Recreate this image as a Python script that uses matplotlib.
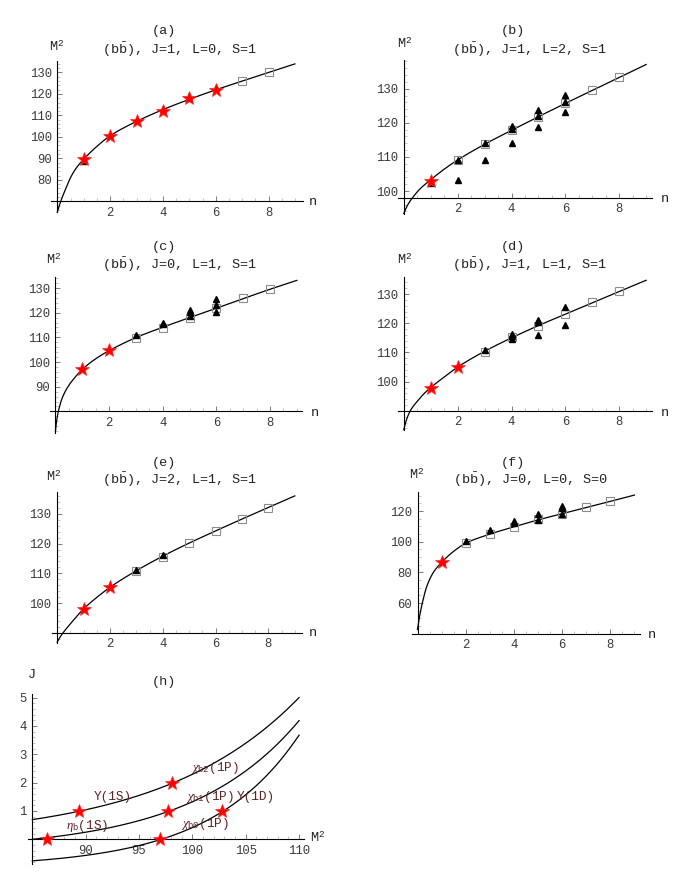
import numpy as np
import matplotlib
matplotlib.use("Agg")
import matplotlib.pyplot as plt
from matplotlib.ticker import AutoMinorLocator, FixedLocator

plt.rcParams['font.family'] = ['Liberation Mono', 'DejaVu Sans']
plt.rcParams['mathtext.fontset'] = 'custom'
plt.rcParams['mathtext.rm'] = 'Liberation Mono'
plt.rcParams['mathtext.it'] = 'Liberation Serif:italic'
plt.rcParams['mathtext.bf'] = 'Liberation Mono:bold'

# ---------------- data ----------------
# (a) J=1, L=0, S=1
a_curve_n = [0, 0.13, 0.3, 0.5, 0.7, 1, 1.5, 2, 3, 4, 5, 6, 7, 8, 9]
a_curve_m2 = [65.0, 70.0, 75.3, 81.0, 85.2, 89.6, 95.6, 100.5, 107.2, 112.7, 117.5, 121.9, 126.0, 130.0, 134.0]
a_star_n = [1, 2, 3, 4, 5, 6]
a_star_m2 = [89.6, 100.5, 107.2, 112.1, 118.3, 121.9]
a_tri_n = [1, 4, 5, 6]
a_tri_m2 = [88.8, 113.0, 118.2, 122.9]
a_sq_n = [7, 8]
a_sq_m2 = [126.0, 130.0]

# (b) J=1, L=2, S=1
b_curve_n = [0, 0.15, 0.35, 0.6, 1, 1.5, 2, 3, 4, 5, 6, 7, 8, 9]
b_curve_m2 = [93.4, 96.0, 98.3, 100.6, 103.3, 106.4, 109.1, 113.7, 117.8, 121.8, 125.7, 129.5, 133.3, 137.1]
b_star_n = [1]
b_star_m2 = [102.9]
b_tri_n = [1, 2, 2, 3, 3, 4, 4, 4, 5, 5, 5, 6, 6, 6]
b_tri_m2 = [102.4, 103.2, 109.1, 109.0, 114.1, 114.0, 118.1, 119.0, 118.9, 121.9, 123.8, 123.2, 126.1, 128.2]
b_sq_n = [2, 3, 4, 5, 6, 7, 8]
b_sq_m2 = [109.0, 113.7, 117.8, 121.8, 125.8, 129.6, 133.3]

# (c) J=0, L=1, S=1
c_curve_n = [0, 0.05, 0.11, 0.25, 0.48, 0.7, 1, 1.5, 2, 3, 4, 5, 6, 7, 8, 9]
c_curve_m2 = [71.8, 76.5, 80.0, 85.3, 90.2, 93.4, 97.0, 101.3, 104.6, 109.9, 114.1, 118.0, 121.8, 125.7, 129.5, 133.1]
c_star_n = [1, 2]
c_star_m2 = [97.2, 104.7]
c_tri_n = [3, 4, 4, 5, 5, 5, 6, 6, 6]
c_tri_m2 = [110.8, 115.9, 115.3, 121.1, 120.3, 118.5, 125.5, 123.1, 120.1]
c_sq_n = [3, 4, 5, 6, 7, 8]
c_sq_m2 = [109.7, 113.9, 118.0, 121.9, 125.8, 129.5]

# (d) J=1, L=1, S=1
d_curve_n = [0, 0.1, 0.25, 0.5, 0.75, 1, 1.5, 2, 3, 4, 5, 6, 7, 8, 9]
d_curve_m2 = [83.6, 87.0, 90.2, 93.3, 95.9, 98.0, 101.6, 105.0, 110.4, 115.0, 119.2, 123.1, 127.0, 130.9, 134.7]
d_star_n = [1, 2]
d_star_m2 = [97.7, 105.1]
d_tri_n = [3, 4, 4, 4, 5, 5, 5, 6, 6]
d_tri_m2 = [111.0, 116.2, 115.5, 114.7, 121.0, 120.4, 116.0, 125.5, 119.5]
d_sq_n = [3, 4, 5, 6, 7, 8]
d_sq_m2 = [110.2, 115.2, 119.1, 123.1, 127.1, 130.9]

# (e) J=2, L=1, S=1
e_curve_n = [0, 0.1, 0.26, 0.5, 0.75, 1, 1.5, 2, 3, 4, 5, 6, 7, 8, 9]
e_curve_m2 = [86.8, 88.4, 90.4, 93.0, 95.6, 98.0, 101.9, 105.3, 110.9, 115.8, 120.2, 124.3, 128.3, 132.2, 136.1]
e_star_n = [1, 2]
e_star_m2 = [98.1, 105.3]
e_tri_n = [3, 4]
e_tri_m2 = [111.0, 116.2]
e_sq_n = [3, 4, 5, 6, 7, 8]
e_sq_m2 = [110.7, 115.5, 120.1, 124.3, 128.2, 132.1]

# (f) J=0, L=0, S=0
f_curve_n = [0, 0.1, 0.2, 0.38, 0.66, 1, 1.5, 2, 3, 4, 5, 6, 7, 8, 9]
f_curve_m2 = [42.8, 52.5, 60.0, 70.6, 80.0, 86.5, 93.7, 99.0, 104.9, 109.7, 114.2, 118.2, 122.3, 126.3, 130.4]
f_star_n = [1]
f_star_m2 = [86.5]
f_tri_n = [1, 2, 3, 4, 4, 5, 5, 6, 6, 6]
f_tri_m2 = [87.6, 100.7, 107.4, 113.5, 112.0, 118.3, 113.9, 123.0, 121.7, 118.0]
f_sq_n = [2, 3, 4, 5, 6, 7, 8]
f_sq_m2 = [98.9, 104.8, 109.8, 114.6, 118.0, 122.6, 126.3]

# (h) Regge trajectories J vs M^2
h_curve_m2 = [85, 87.5, 90, 92.5, 95, 97.5, 100, 102.5, 105, 107.5, 110]
h_top_j = [0.695, 0.851, 1.041, 1.270, 1.548, 1.885, 2.294, 2.790, 3.391, 4.119, 5.002]
h_mid_j = [0.0, 0.110, 0.250, 0.429, 0.658, 0.951, 1.324, 1.801, 2.412, 3.191, 4.187]
h_bot_j = [-0.760, -0.679, -0.569, -0.421, -0.221, 0.049, 0.413, 0.905, 1.569, 2.465, 3.674]
h_star_m2 = [86.4, 89.4, 97.0, 97.7, 98.1, 102.8]
h_star_j = [0, 1, 0, 1, 2, 1]
h_labels = ["$\\eta_{\\mathrm{b}}$(1S)", "\u03a5(1S)", "$\\chi_{\\mathrm{b0}}$(1P)",
            "$\\chi_{\\mathrm{b1}}$(1P)", "$\\chi_{\\mathrm{b2}}$(1P)", "\u03a5(1D)"]

titles = {
    'a': ("(a)", "(b$\\bar{\\mathrm{b}}$), J=1, L=0, S=1"),
    'b': ("(b)", "(b$\\bar{\\mathrm{b}}$), J=1, L=2, S=1"),
    'c': ("(c)", "(b$\\bar{\\mathrm{b}}$), J=0, L=1, S=1"),
    'd': ("(d)", "(b$\\bar{\\mathrm{b}}$), J=1, L=1, S=1"),
    'e': ("(e)", "(b$\\bar{\\mathrm{b}}$), J=2, L=1, S=1"),
    'f': ("(f)", "(b$\\bar{\\mathrm{b}}$), J=0, L=0, S=0"),
}

series = {
    'a': (a_curve_n, a_curve_m2, a_star_n, a_star_m2, a_tri_n, a_tri_m2, a_sq_n, a_sq_m2),
    'b': (b_curve_n, b_curve_m2, b_star_n, b_star_m2, b_tri_n, b_tri_m2, b_sq_n, b_sq_m2),
    'c': (c_curve_n, c_curve_m2, c_star_n, c_star_m2, c_tri_n, c_tri_m2, c_sq_n, c_sq_m2),
    'd': (d_curve_n, d_curve_m2, d_star_n, d_star_m2, d_tri_n, d_tri_m2, d_sq_n, d_sq_m2),
    'e': (e_curve_n, e_curve_m2, e_star_n, e_star_m2, e_tri_n, e_tri_m2, e_sq_n, e_sq_m2),
    'f': (f_curve_n, f_curve_m2, f_star_n, f_star_m2, f_tri_n, f_tri_m2, f_sq_n, f_sq_m2),
}

# ---------------- layout (pixels) ----------------
W, H = 700, 886
fig = plt.figure(figsize=(W / 100, H / 100), dpi=100)

layout = {
    'a': dict(cal=(0, 57.3, 26.4, 70, 201.3, 2.147), xlim=(-0.25, 9.3), ylim=(65.0, 135.3),
              origin=(0, 70), yticks=[80, 90, 100, 110, 120, 130], yminor=5,
              t1=(163.7, 31), t2=(180, 50), m2=(56.7, 46.7), nl=(313.3, 202.3)),
    'b': dict(cal=(0, 403.8, 26.93, 100, 191.0, 3.41), xlim=(-0.23, 9.21), ylim=(93.3, 138.4),
              origin=(0, 98), yticks=[100, 110, 120, 130], yminor=5,
              t1=(513.3, 31), t2=(530, 50), m2=(404.3, 43.3), nl=(665, 199.3)),
    'c': dict(cal=(0, 55.4, 26.83, 90, 386.7, 2.467), xlim=(-0.2, 9.18), ylim=(71.2, 134.6),
              origin=(0, 80), yticks=[90, 100, 110, 120, 130], yminor=5,
              t1=(163.7, 246.7), t2=(180, 264.3), m2=(53.3, 259.3), nl=(315, 412.7)),
    'd': dict(cal=(0, 403.8, 26.93, 100, 381.7, 2.923), xlim=(-0.2, 9.2), ylim=(83.5, 135.9),
              origin=(0, 90), yticks=[100, 110, 120, 130], yminor=5,
              t1=(513.3, 246.7), t2=(530, 264.3), m2=(405, 259.3), nl=(665, 412.7)),
    'e': dict(cal=(0, 57.2, 26.4, 100, 603.0, 2.967), xlim=(-0.21, 9.26), ylim=(86.5, 137.5),
              origin=(0, 90), yticks=[100, 110, 120, 130], yminor=5,
              t1=(163.7, 462.7), t2=(180, 480), m2=(53.3, 476.7), nl=(313.3, 633.3)),
    'f': dict(cal=(0, 417.5, 24.1, 60, 603.0, 1.533), xlim=(-0.22, 9.23), ylim=(40.0, 132.2),
              origin=(0, 40), yticks=[60, 80, 100, 120], yminor=4,
              t1=(513.3, 462.7), t2=(530.3, 480), m2=(416.7, 474.3), nl=(651.7, 635)),
}

TICK_FS = 8.8
TITLE_FS = 9.7
LABEL_FS = 9.7
TICK_COLOR = '#3a3a3a'


def ftext(px, py, s, **kw):
    kw.setdefault('ha', 'center')
    kw.setdefault('va', 'center')
    return fig.text(px / W, 1 - py / H, s, **kw)


def make_axes(cal, xlim, ylim):
    xr, xpx, sx, yr, ypx, sy = cal
    left = xpx + (xlim[0] - xr) * sx
    right = xpx + (xlim[1] - xr) * sx
    top = ypx - (ylim[1] - yr) * sy
    bottom = ypx - (ylim[0] - yr) * sy
    ax = fig.add_axes([left / W, 1 - bottom / H, (right - left) / W, (bottom - top) / H])
    ax.set_xlim(*xlim)
    ax.set_ylim(*ylim)
    ax.patch.set_alpha(0)
    return ax


def style_axes(ax, origin, xticks, yticks, xminor, yminor):
    for s in ('top', 'right'):
        ax.spines[s].set_visible(False)
    ax.spines['left'].set_position(('data', origin[0]))
    ax.spines['bottom'].set_position(('data', origin[1]))
    for s in ('left', 'bottom'):
        ax.spines[s].set_linewidth(0.8)
        ax.spines[s].set_color('black')
    ax.xaxis.set_major_locator(FixedLocator(xticks))
    ax.yaxis.set_major_locator(FixedLocator(yticks))
    ax.xaxis.set_minor_locator(AutoMinorLocator(xminor))
    ax.yaxis.set_minor_locator(AutoMinorLocator(yminor))
    ax.tick_params(which='major', direction='in', length=3.5, width=0.6, color='#666666',
                   labelsize=TICK_FS, labelcolor=TICK_COLOR, pad=4.0)
    ax.tick_params(which='minor', direction='in', length=2.0, width=0.5, color='#aaaaaa')
    for lab in ax.get_xticklabels() + ax.get_yticklabels():
        lab.set_family('Liberation Mono')


def pchip(x, y, xs):
    x = np.asarray(x, float)
    y = np.asarray(y, float)
    h = np.diff(x)
    delta = np.diff(y) / h
    n = len(x)
    d = np.zeros(n)
    for k in range(1, n - 1):
        if delta[k - 1] * delta[k] > 0:
            w1 = 2 * h[k] + h[k - 1]
            w2 = h[k] + 2 * h[k - 1]
            d[k] = (w1 + w2) / (w1 / delta[k - 1] + w2 / delta[k])
    def end(h0, h1, d0, d1):
        v = ((2 * h0 + h1) * d0 - h0 * d1) / (h0 + h1)
        if np.sign(v) != np.sign(d0):
            v = 0.0
        elif np.sign(d0) != np.sign(d1) and abs(v) > abs(3 * d0):
            v = 3 * d0
        return v
    d[0] = end(h[0], h[1], delta[0], delta[1])
    d[-1] = end(h[-1], h[-2], delta[-1], delta[-2])
    idx = np.clip(np.searchsorted(x, xs) - 1, 0, n - 2)
    t = (xs - x[idx]) / h[idx]
    h00 = 2 * t**3 - 3 * t**2 + 1
    h10 = t**3 - 2 * t**2 + t
    h01 = -2 * t**3 + 3 * t**2
    h11 = t**3 - t**2
    return h00 * y[idx] + h10 * h[idx] * d[idx] + h01 * y[idx + 1] + h11 * h[idx] * d[idx + 1]


def draw_curve(ax, x, y):
    xs = np.linspace(x[0], x[-1], 600)
    ax.plot(xs, pchip(x, y, xs), color='black', lw=0.9, zorder=2, clip_on=False)


def draw_points(ax, sq, tri, star):
    if sq[0]:
        ax.plot(sq[0], sq[1], ls='none', marker='s', ms=5.2, mfc='none', mec='#8c8c8c',
                mew=0.8, zorder=3, clip_on=False)
    if tri[0]:
        ax.plot(tri[0], tri[1], ls='none', marker='^', ms=4.3, color='black', zorder=4,
                clip_on=False)
    if star[0]:
        ax.plot(star[0], star[1], ls='none', marker='*', ms=10.5, mfc='#ff0000', mec='#ff2a2a',
                mew=0.5, zorder=5, clip_on=False)


for key in ['a', 'b', 'c', 'd', 'e', 'f']:
    L = layout[key]
    cn, cm, sn, sm, tn, tm, qn, qm = series[key]
    ax = make_axes(L['cal'], L['xlim'], L['ylim'])
    style_axes(ax, L['origin'], [2, 4, 6, 8], L['yticks'], 4, L['yminor'])
    draw_curve(ax, cn, cm)
    draw_points(ax, (qn, qm), (tn, tm), (sn, sm))
    t1, t2 = titles[key]
    ftext(*L['t1'], t1, fontsize=TITLE_FS, color='#222222')
    ftext(*L['t2'], t2, fontsize=TITLE_FS, color='#222222')
    ftext(*L['m2'], "M$^{2}$", fontsize=LABEL_FS, color='#222222')
    ftext(*L['nl'], "n", fontsize=LABEL_FS, color='#222222')

# ---------------- panel (h) ----------------
axh = make_axes((85, 32.3, 10.67, 0, 839.3, 28.33), (84.6, 110.5), (-0.87, 5.13))
style_axes(axh, (85, 0), [90, 95, 100, 105, 110], [1, 2, 3, 4, 5], 5, 5)
for jj in (h_top_j, h_mid_j, h_bot_j):
    draw_curve(axh, h_curve_m2, jj)
axh.plot(h_star_m2, h_star_j, ls='none', marker='*', ms=10.5, mfc='#ff0000', mec='#ff2a2a',
         mew=0.5, zorder=5, clip_on=False)

label_px = [(87.5, 825.7), (113.3, 796.7), (205.5, 824.5), (210.0, 797.3), (215.3, 768.3), (255.8, 796.7)]
for (px, py), s in zip(label_px, h_labels):
    ftext(px, py, s, fontsize=9.2, color='#5e2424')

ftext(163.5, 681.7, "(h)", fontsize=TITLE_FS, color='#222222')
ftext(31.7, 675, "J", fontsize=LABEL_FS, color='#222222')
ftext(318, 838, "M$^{2}$", fontsize=LABEL_FS, color='#222222')

fig.savefig("out.png", dpi=100)
